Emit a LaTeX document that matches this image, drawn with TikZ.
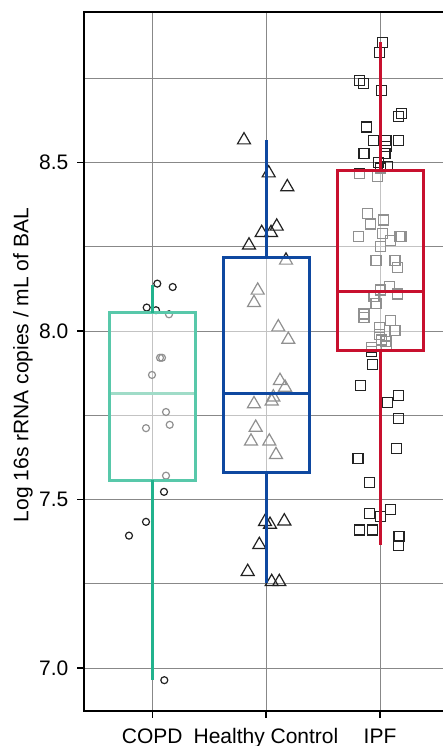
\documentclass[tikz,border=0pt]{standalone}
\usepackage{fontspec}
\setmainfont{Liberation Sans}
\usetikzlibrary{shapes.geometric}
\definecolor{copdcol}{RGB}{34,178,141}
\definecolor{copdbox}{RGB}{88,200,170}
\definecolor{copdmed}{RGB}{160,220,200}
\definecolor{hccol}{RGB}{14,72,160}
\definecolor{ipfcol}{RGB}{200,16,46}
\definecolor{gridcol}{RGB}{136,136,136}
\definecolor{ptcol}{RGB}{34,34,34}
\begin{document}
\begin{tikzpicture}[x=1pt, y=1pt,
		every node/.style={font=\fontsize{21}{25}\selectfont},
		grid/.style={draw=gridcol, line width=1pt},
		axis/.style={draw=black, line width=1.5pt},
		copdpt/.style={draw=ptcol, circle, line width=1.2pt, inner sep=0pt, minimum size=7pt},
		hcpt/.style={draw=ptcol, regular polygon, regular polygon sides=3, line width=1.2pt, inner sep=0pt, minimum size=15pt},
		ipfpt/.style={draw=ptcol, rectangle, line width=1.2pt, inner sep=0pt, minimum size=10pt},
		boxfill/.style={fill=white, fill opacity=0.5},
		boxline/.style={line width=3pt}]
		\useasboundingbox (0,0) rectangle (443,746);
	\begin{scope}[y=336.9pt, yshift=-2280.35pt]
		% grid
		\draw[grid] (84,7.00) -- (443,7.00);
		\draw[grid] (84,7.25) -- (443,7.25);
		\draw[grid] (84,7.50) -- (443,7.50);
		\draw[grid] (84,7.75) -- (443,7.75);
		\draw[grid] (84,8.00) -- (443,8.00);
		\draw[grid] (84,8.25) -- (443,8.25);
		\draw[grid] (84,8.50) -- (443,8.50);
		\draw[grid] (84,8.75) -- (443,8.75);
		\draw[grid] (152.3,6.8725) -- (152.3,8.9473);
		\draw[grid] (266,6.8725) -- (266,8.9473);
		\draw[grid] (380,6.8725) -- (380,8.9473);

		% COPD
		\node[copdpt] (c1) at (157.3,8.141) {};
		\node[copdpt] (c2) at (172.7,8.131) {};
		\node[copdpt] (c3) at (146.7,8.070) {};
		\node[copdpt] (c4) at (156,8.062) {};
		\node[copdpt] (c5) at (169,8.050) {};
		\node[copdpt] (c6) at (160,7.921) {};
		\node[copdpt] (c7) at (162,7.921) {};
		\node[copdpt] (c8) at (152,7.870) {};
		\node[copdpt] (c9) at (166,7.760) {};
		\node[copdpt] (c10) at (146,7.712) {};
		\node[copdpt] (c11) at (169.7,7.722) {};
		\node[copdpt] (c12) at (166,7.571) {};
		\node[copdpt] (c13) at (164,7.523) {};
		\node[copdpt] (c14) at (146,7.434) {};
		\node[copdpt] (c15) at (129,7.393) {};
		\node[copdpt] (c16) at (164.3,6.964) {};

		% Healthy Control
		\node[hcpt] (h1) at (244,8.567) {};
		\node[hcpt] (h2) at (268.7,8.469) {};
		\node[hcpt] (h3) at (287.3,8.428) {};
		\node[hcpt] (h4) at (276.7,8.311) {};
		\node[hcpt] (h5) at (261.7,8.292) {};
		\node[hcpt] (h6) at (271,8.292) {};
		\node[hcpt] (h7) at (249,8.255) {};
		\node[hcpt] (h8) at (286,8.210) {};
		\node[hcpt] (h9) at (257.7,8.121) {};
		\node[hcpt] (h10) at (254,8.084) {};
		\node[hcpt] (h11) at (278.3,8.012) {};
		\node[hcpt] (h12) at (288.3,7.975) {};
		\node[hcpt] (h13) at (280,7.853) {};
		\node[hcpt] (h14) at (285,7.833) {};
		\node[hcpt] (h15) at (273.3,7.804) {};
		\node[hcpt] (h16) at (271.7,7.792) {};
		\node[hcpt] (h17) at (254,7.784) {};
		\node[hcpt] (h18) at (255.7,7.714) {};
		\node[hcpt] (h19) at (251,7.673) {};
		\node[hcpt] (h20) at (269.3,7.673) {};
		\node[hcpt] (h21) at (276,7.633) {};
		\node[hcpt] (h22) at (265,7.434) {};
		\node[hcpt] (h23) at (270,7.426) {};
		\node[hcpt] (h24) at (284.3,7.436) {};
		\node[hcpt] (h25) at (259.3,7.366) {};
		\node[hcpt] (h26) at (247.7,7.286) {};
		\node[hcpt] (h27) at (271.7,7.256) {};
		\node[hcpt] (h28) at (279.3,7.256) {};

		% IPF
		\node[ipfpt] (p1) at (382.7,8.857) {};
		\node[ipfpt] (p2) at (379.3,8.827) {};
		\node[ipfpt] (p3) at (359.3,8.745) {};
		\node[ipfpt] (p4) at (363.3,8.735) {};
		\node[ipfpt] (p5) at (381.7,8.715) {};
		\node[ipfpt] (p6) at (401.7,8.646) {};
		\node[ipfpt] (p7) at (398.3,8.636) {};
		\node[ipfpt] (p8) at (366.7,8.606) {};
		\node[ipfpt] (p9) at (373.3,8.567) {};
		\node[ipfpt] (p10) at (386,8.567) {};
		\node[ipfpt] (p11) at (398.7,8.567) {};
		\node[ipfpt] (p12) at (386.7,8.547) {};
		\node[ipfpt] (p13) at (364,8.527) {};
		\node[ipfpt] (p14) at (385,8.527) {};
		\node[ipfpt] (p15) at (378.3,8.500) {};
		\node[ipfpt] (p16) at (387.3,8.488) {};
		\node[ipfpt] (p17) at (380.7,8.484) {};
		\node[ipfpt] (p18) at (359.3,8.468) {};
		\node[ipfpt] (p19) at (377.3,8.458) {};
		\node[ipfpt] (p20) at (367.3,8.348) {};
		\node[ipfpt] (p21) at (370.7,8.318) {};
		\node[ipfpt] (p22) at (383.3,8.330) {};
		\node[ipfpt] (p23) at (358.3,8.280) {};
		\node[ipfpt] (p24) at (382.7,8.290) {};
		\node[ipfpt] (p25) at (400,8.280) {};
		\node[ipfpt] (p26) at (401.7,8.280) {};
		\node[ipfpt] (p27) at (390.7,8.268) {};
		\node[ipfpt] (p28) at (380.7,8.251) {};
		\node[ipfpt] (p29) at (376,8.209) {};
		\node[ipfpt] (p30) at (395,8.209) {};
		\node[ipfpt] (p31) at (397.3,8.190) {};
		\node[ipfpt] (p32) at (389.3,8.132) {};
		\node[ipfpt] (p33) at (380.7,8.122) {};
		\node[ipfpt] (p34) at (397.3,8.110) {};
		\node[ipfpt] (p35) at (374,8.102) {};
		\node[ipfpt] (p36) at (376,8.081) {};
		\node[ipfpt] (p37) at (364,8.051) {};
		\node[ipfpt] (p38) at (364,8.041) {};
		\node[ipfpt] (p39) at (390.7,8.031) {};
		\node[ipfpt] (p40) at (379.3,8.011) {};
		\node[ipfpt] (p41) at (395,8.001) {};
		\node[ipfpt] (p42) at (379.3,7.989) {};
		\node[ipfpt] (p43) at (381.7,7.974) {};
		\node[ipfpt] (p44) at (386,7.969) {};
		\node[ipfpt] (p45) at (371.7,7.952) {};
		\node[ipfpt] (p46) at (386.7,7.956) {};
		\node[ipfpt] (p47) at (371.7,7.939) {};
		\node[ipfpt] (p48) at (372.7,7.900) {};
		\node[ipfpt] (p49) at (360.7,7.839) {};
		\node[ipfpt] (p50) at (398.3,7.809) {};
		\node[ipfpt] (p51) at (387.7,7.789) {};
		\node[ipfpt] (p52) at (398.7,7.740) {};
		\node[ipfpt] (p53) at (396.7,7.651) {};
		\node[ipfpt] (p54) at (358,7.621) {};
		\node[ipfpt] (p55) at (369.3,7.551) {};
		\node[ipfpt] (p56) at (369.3,7.459) {};
		\node[ipfpt] (p57) at (380.7,7.449) {};
		\node[ipfpt] (p58) at (390.7,7.470) {};
		\node[ipfpt] (p59) at (359.3,7.410) {};
		\node[ipfpt] (p60) at (372.3,7.410) {};
		\node[ipfpt] (p61) at (399,7.390) {};
		\node[ipfpt] (p62) at (398.3,7.364) {};

		% boxes
		\fill[boxfill] (109,7.557) rectangle (195,8.054);
		\fill[boxfill] (223,7.581) rectangle (309,8.219);
		\fill[boxfill] (337,7.943) rectangle (423,8.476);
		\draw[boxline, copdmed] (109,7.814) -- (195,7.814);
		\draw[boxline, copdbox] (109,7.557) rectangle (195,8.054);
		\draw[boxline, copdcol] (152.3,8.054) -- (152.3,8.138);
		\draw[boxline, copdcol] (152.3,7.557) -- (152.3,6.964);
		\draw[boxline, hccol] (223,7.581) rectangle (309,8.219);
		\draw[boxline, hccol] (223,7.814) -- (309,7.814);
		\draw[boxline, hccol] (266,8.219) -- (266,8.567);
		\draw[boxline, hccol] (266,7.581) -- (266,7.251);
		\draw[boxline, ipfcol] (337,7.943) rectangle (423,8.476);
		\draw[boxline, ipfcol] (337,8.119) -- (423,8.119);
		\draw[boxline, ipfcol] (380,8.476) -- (380,8.857);
		\draw[boxline, ipfcol] (380,7.943) -- (380,7.364);

		% axes
		\draw[axis] (443,8.9473) -- (84,8.9473) -- (84,6.8725) -- (443,6.8725);
		\draw[axis] (77,7.0) -- (84,7.0);
		\draw[axis] (77,7.5) -- (84,7.5);
		\draw[axis] (77,8.0) -- (84,8.0);
		\draw[axis] (77,8.5) -- (84,8.5);
		\draw[axis] (152.3,6.8725) -- ++(0,-7pt);
		\draw[axis] (266,6.8725) -- ++(0,-7pt);
		\draw[axis] (380,6.8725) -- ++(0,-7pt);
		\node[anchor=east, inner sep=0pt] (t70) at (68.5,7.0) {7.0};
		\node[anchor=east, inner sep=0pt] (t75) at (68.5,7.5) {7.5};
		\node[anchor=east, inner sep=0pt] (t80) at (68.5,8.0) {8.0};
		\node[anchor=east, inner sep=0pt] (t85) at (68.5,8.5) {8.5};
		\node[anchor=base, inner sep=0pt] (lcopd) at (152.3,6.7775) {COPD};
		\node[anchor=base, inner sep=0pt] (lhc) at (266,6.7775) {Healthy Control};
		\node[anchor=base, inner sep=0pt] (lipf) at (380,6.7775) {IPF};
		\node[rotate=90, inner sep=0pt] (ylab) at (23,7.899) {Log 16s rRNA copies / mL of BAL};
	\end{scope}
\end{tikzpicture}
\end{document}
